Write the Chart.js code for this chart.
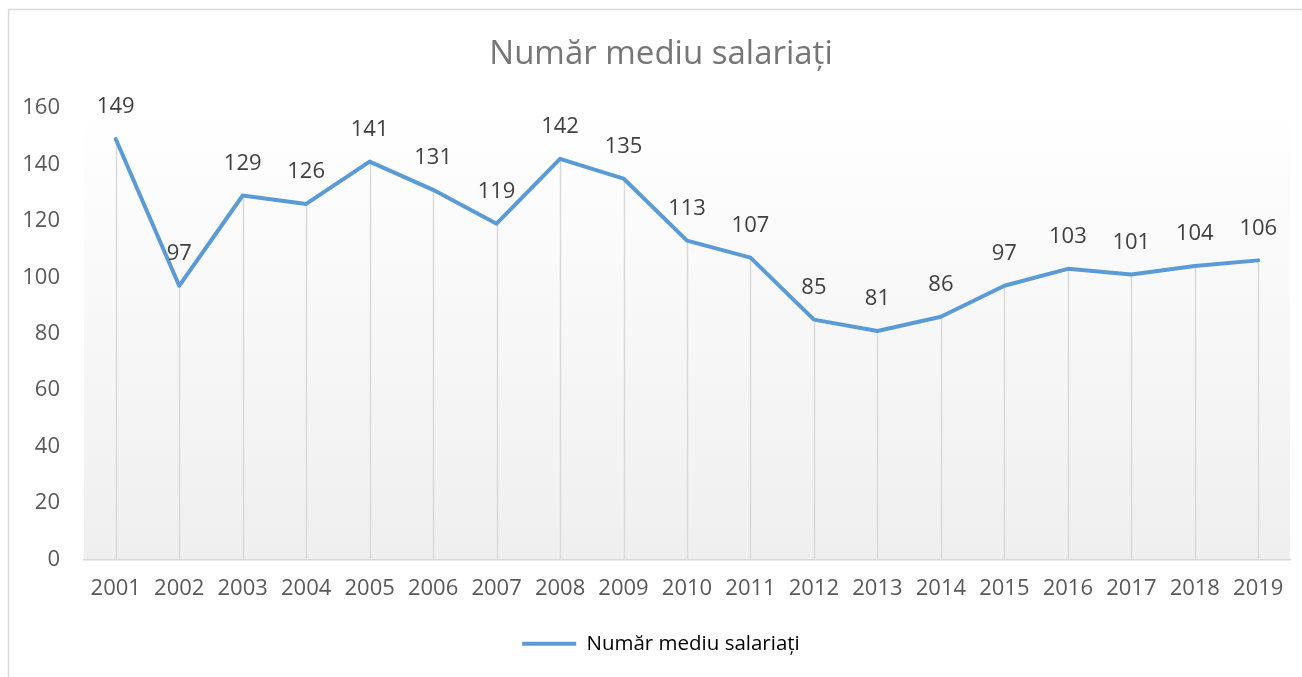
<!DOCTYPE html>
<html>
<head>
<meta charset="utf-8">
<script src="https://cdn.jsdelivr.net/npm/chart.js@4.4.1/dist/chart.umd.min.js"></script>
<style>
html,body{margin:0;padding:0;background:#fff;overflow:hidden;}
#wrap{width:1302px;height:677px;position:relative;overflow:hidden;}
</style>
</head>
<body>
<div id="wrap"><canvas id="c" width="1322" height="677"></canvas></div>
<script>
const categories = ['2001','2002','2003','2004','2005','2006','2007','2008','2009','2010','2011','2012','2013','2014','2015','2016','2017','2018','2019'];
const values = [149,97,129,126,141,131,119,142,135,113,107,85,81,86,97,103,101,104,106];
const seriesName = 'Număr mediu salariați';
const chartTitle = 'Număr mediu salariați';
const yTicks = [0,20,40,60,80,100,120,140,160];

const FONT = '"Open Sans", Lato, sans-serif';

const bgPlugin = {
  id: 'bg',
  beforeDraw(chart) {
    const {ctx, chartArea: a} = chart;
    ctx.save();
    ctx.strokeStyle = '#d9d9d9';
    ctx.lineWidth = 1.5;
    ctx.strokeRect(8.5, 9.5, chart.width - 17, chart.height + 20);
    const g = ctx.createLinearGradient(0, a.top, 0, a.bottom);
    g.addColorStop(0, '#ffffff');
    g.addColorStop(1, '#efefef');
    ctx.fillStyle = g;
    ctx.fillRect(a.left, a.top, a.right - a.left, a.bottom - a.top);
    ctx.restore();
  }
};

const dropPlugin = {
  id: 'drop',
  beforeDatasetsDraw(chart) {
    const {ctx, chartArea: a} = chart;
    const meta = chart.getDatasetMeta(0);
    ctx.save();
    ctx.strokeStyle = '#d9d9d9';
    ctx.lineWidth = 1.5;
    meta.data.forEach(p => {
      ctx.beginPath();
      ctx.moveTo(Math.round(p.x) + 0.5, p.y);
      ctx.lineTo(Math.round(p.x) + 0.5, a.bottom);
      ctx.stroke();
    });
    ctx.restore();
  },
  afterDatasetsDraw(chart) {
    const {ctx} = chart;
    const meta = chart.getDatasetMeta(0);
    const data = chart.data.datasets[0].data;
    ctx.save();
    ctx.fillStyle = '#404040';
    ctx.font = '22px ' + FONT;
    ctx.textAlign = 'center';
    ctx.textBaseline = 'middle';
    meta.data.forEach((p, i) => {
      ctx.fillText(String(data[i]), p.x, p.y - 32);
    });
    ctx.restore();
  }
};

new Chart(document.getElementById('c'), {
  type: 'line',
  data: {
    labels: categories,
    datasets: [{
      label: seriesName,
      data: values,
      yAxisID: 'y',
      borderColor: '#5b9bd5',
      backgroundColor: '#5b9bd5',
      borderWidth: 4,
      pointRadius: 0,
      pointHoverRadius: 0,
      tension: 0,
      borderCapStyle: 'round',
      borderJoinStyle: 'round',
      fill: false
    }]
  },
  options: {
    responsive: false,
    animation: false,
    events: [],
    layout: { padding: { left: 0, right: 0, top: 0, bottom: 13 } },
    plugins: {
      title: {
        display: true,
        text: chartTitle,
        color: '#767676',
        font: { family: FONT, size: 33, weight: 'normal', lineHeight: 1.2 },
        padding: { top: 35, bottom: 33.4 }
      },
      legend: {
        display: true,
        position: 'bottom',
        labels: {
          color: '#595959',
          font: { family: FONT, size: 20.5 },
          boxWidth: 54,
          boxHeight: 4,
          padding: 0,
          generateLabels(chart) {
            return [{ text: seriesName, fillStyle: '#5b9bd5', strokeStyle: '#5b9bd5', lineWidth: 0, datasetIndex: 0 }];
          }
        }
      },
      tooltip: { enabled: false }
    },
    scales: {
      x: {
        offset: true,
        grid: { display: false, drawTicks: false },
        border: { display: true, color: '#d9d9d9', width: 1.5 },
        ticks: { color: '#595959', font: { family: FONT, size: 22 }, padding: 16, maxRotation: 0, autoSkip: false },
        afterFit(scale) { scale.height = 74; }
      },
      y: {
        position: 'left',
        min: 0,
        max: 160,
        grid: { display: false, drawTicks: false },
        border: { display: false },
        afterBuildTicks(scale) { scale.ticks = yTicks.map(v => ({ value: v })); },
        ticks: { color: '#595959', font: { family: FONT, size: 22 }, padding: 24 },
        afterFit(scale) { scale.width = 84; }
      },
      yRight: {
        position: 'right',
        display: true,
        min: 0,
        max: 160,
        grid: { display: false, drawTicks: false },
        border: { display: false },
        ticks: { display: false },
        afterFit(scale) { scale.width = 32; }
      }
    }
  },
  plugins: [bgPlugin, dropPlugin]
});
</script>
</body>
</html>
